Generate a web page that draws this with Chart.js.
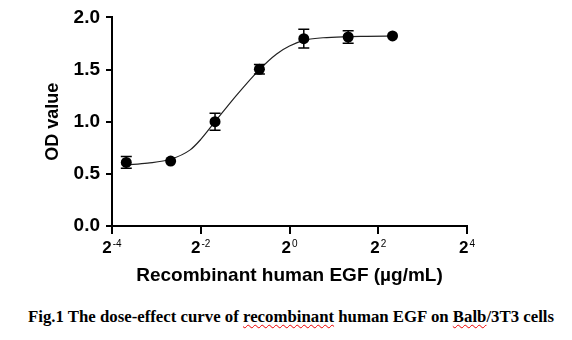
<!DOCTYPE html>
<html>
<head>
<meta charset="utf-8">
<script src="https://cdn.jsdelivr.net/npm/chart.js@4/dist/chart.umd.min.js"></script>
<style>
  body { margin: 0; background: #fff; }
  #wrap { position: relative; width: 572px; height: 340px; }
  #caption {
    position: absolute; left: 28px; top: 307px; white-space: nowrap;
    font-family: 'Liberation Serif', 'Times New Roman', serif;
    font-weight: bold; font-size: 16.8px; color: #000;
  }
  .sp { text-decoration: underline wavy #e00; text-decoration-thickness: 1px; text-underline-offset: 2px; }
</style>
</head>
<body>
<div id="wrap">
  <canvas id="chart" width="572" height="290"></canvas>
  <div id="caption">Fig.1 The dose-effect curve of <span class="sp">recombinant</span> human EGF on <span class="sp">Balb</span>/3T3 cells</div>
</div>
<script>
// measured points (µg/mL, OD)
const doses = [0.078125, 0.15625, 0.3125, 0.625, 1.25, 2.5, 5];
const odMeans = [0.61, 0.623, 1.0, 1.503, 1.796, 1.812, 1.822];
const odErrors = [0.057, 0.0, 0.082, 0.045, 0.09, 0.06, 0.0];

// fitted curve
const fitDoses = [0.078, 0.109, 0.156, 0.212, 0.25, 0.3125, 0.438, 0.625, 0.818, 1.0, 1.25, 1.69, 2.5, 3.34, 5.0];
const fitOD = [0.586, 0.603, 0.64, 0.73, 0.83, 1.0, 1.255, 1.5, 1.65, 1.725, 1.78, 1.805, 1.815, 1.818, 1.822];

const xTickExps = [-4, -2, 0, 2, 4];
const yTicks = [0, 0.5, 1.0, 1.5, 2.0];

Chart.defaults.font.family = "'Liberation Sans', Arial, sans-serif";
Chart.defaults.color = '#000';

const errorBars = {
  id: 'errorBars',
  afterDatasetsDraw(chart) {
    const ctx = chart.ctx;
    const xs = chart.scales.x, ys = chart.scales.y;
    ctx.save();
    ctx.strokeStyle = '#000';
    ctx.lineWidth = 1.5;
    doses.forEach((d, i) => {
      const e = odErrors[i];
      if (!e) return;
      const px = xs.getPixelForValue(d);
      const top = ys.getPixelForValue(odMeans[i] + e);
      const bot = ys.getPixelForValue(odMeans[i] - e);
      ctx.beginPath();
      ctx.moveTo(px, top); ctx.lineTo(px, bot);
      ctx.moveTo(px - 5.5, top); ctx.lineTo(px + 5.5, top);
      ctx.moveTo(px - 5.5, bot); ctx.lineTo(px + 5.5, bot);
      ctx.stroke();
    });
    // dots on top of the bars
    ctx.fillStyle = '#000';
    doses.forEach((d, i) => {
      ctx.beginPath();
      ctx.arc(xs.getPixelForValue(d), ys.getPixelForValue(odMeans[i]), 5.5, 0, Math.PI * 2);
      ctx.fill();
    });
    ctx.restore();
  }
};

const powerLabels = {
  id: 'powerLabels',
  afterDraw(chart) {
    const ctx = chart.ctx;
    const xs = chart.scales.x;
    ctx.save();
    ctx.fillStyle = '#000';
    ctx.textBaseline = 'alphabetic';
    ctx.textAlign = 'left';
    xTickExps.forEach(e => {
      const px = xs.getPixelForValue(Math.pow(2, e));
      const base = '2', exp = String(e);
      ctx.font = "bold 17px 'Liberation Sans', Arial, sans-serif";
      const wb = ctx.measureText(base).width;
      ctx.font = "10px 'Liberation Sans', Arial, sans-serif";
      const we = ctx.measureText(exp).width;
      const x0 = px - (wb + we + 1) / 2;
      ctx.font = "bold 17px 'Liberation Sans', Arial, sans-serif";
      ctx.fillText(base, x0, 253);
      ctx.font = "10px 'Liberation Sans', Arial, sans-serif";
      ctx.fillText(exp, x0 + wb + 1, 247);
    });
    ctx.restore();
  }
};

new Chart(document.getElementById('chart'), {
  type: 'scatter',
  data: {
    datasets: [{
      type: 'line',
      data: fitDoses.map((d, i) => ({ x: d, y: fitOD[i] })),
      borderColor: '#222',
      borderWidth: 1.2,
      pointRadius: 0,
      fill: false,
      cubicInterpolationMode: 'monotone'
    }, {
      data: doses.map((d, i) => ({ x: d, y: odMeans[i] })),
      pointRadius: 0,
      showLine: false
    }]
  },
  options: {
    responsive: false,
    animation: false,
    events: [],
    layout: { padding: { left: 0, right: 105, top: 13, bottom: 0 } },
    plugins: { legend: { display: false }, tooltip: { enabled: false } },
    scales: {
      x: {
        type: 'logarithmic',
        min: Math.pow(2, -4),
        max: Math.pow(2, 4),
        afterBuildTicks: s => { s.ticks = xTickExps.map(e => ({ value: Math.pow(2, e) })); },
        afterFit: s => { s.height = 64; },
        ticks: { display: false },
        grid: { drawOnChartArea: false, drawTicks: true, tickLength: 8, color: '#000', lineWidth: 2 },
        border: { color: '#000', width: 2 },
        title: {
          display: true,
          text: 'Recombinant human EGF (µg/mL)',
          font: { size: 19, weight: 'bold' },
          padding: { top: 0, bottom: 3 }
        }
      },
      y: {
        min: 0,
        max: 2,
        afterBuildTicks: s => { s.ticks = yTicks.map(v => ({ value: v })); },
        afterFit: s => { s.width = 112; },
        ticks: {
          font: { size: 19, weight: 'bold' },
          padding: 6,
          callback: v => v.toFixed(1)
        },
        grid: { drawOnChartArea: false, drawTicks: true, tickLength: 6, color: '#000', lineWidth: 2 },
        border: { color: '#000', width: 2 },
        title: {
          display: true,
          text: 'OD value',
          font: { size: 18, weight: 'bold' },
          padding: { top: 42.5, bottom: 0 }
        }
      }
    }
  },
  plugins: [errorBars, powerLabels]
});
</script>
</body>
</html>
